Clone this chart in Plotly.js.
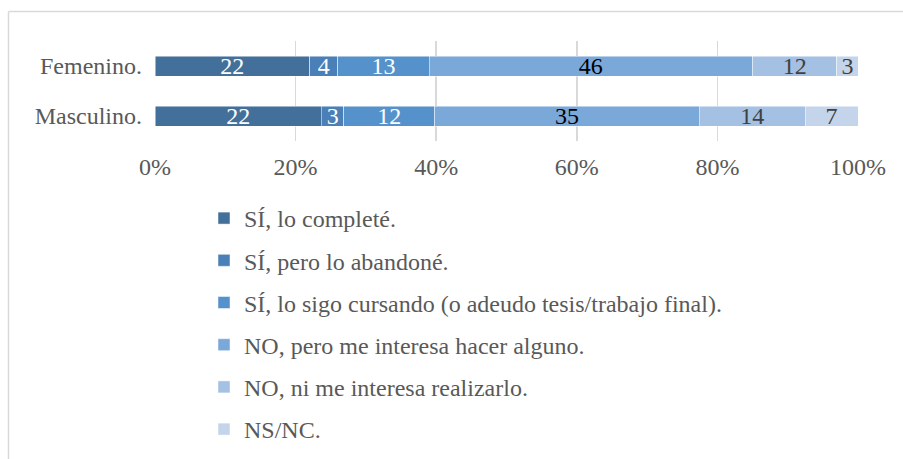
<!DOCTYPE html>
<html>
<head>
<meta charset="utf-8">
<script src="https://cdn.plot.ly/plotly-3.0.1.min.js"></script>
<style>
html,body{margin:0;padding:0;background:#fff;}
#chart{width:903px;height:459px;}
</style>
</head>
<body>
<div id="chart"></div>
<script>
// Data
const categories = ["Masculino.", "Femenino."];
const seriesNames = [
  "SÍ, lo completé.",
  "SÍ, pero lo abandoné.",
  "SÍ, lo sigo cursando (o adeudo tesis/trabajo final).",
  "NO, pero me interesa hacer alguno.",
  "NO, ni me interesa realizarlo.",
  "NS/NC."
];
// values ordered as [Masculino, Femenino]
const completo   = [22, 22];
const abandono   = [3, 4];
const cursando   = [12, 13];
const interesa   = [35, 46];
const noInteresa = [14, 12];
const nsnc       = [7, 3];
const tickVals = [0, 20, 40, 60, 80, 100];
const tickText = ["0%", "20%", "40%", "60%", "80%", "100%"];

const seriesValues = [completo, abandono, cursando, interesa, noInteresa, nsnc];
const colors = ["#43709b", "#4a7fb8", "#5592cb", "#7aa8d9", "#a4c0e3", "#c4d5eb"];
const textColors = ["#ffffff", "#ffffff", "#ffffff", "#000000", "#404040", "#404040"];
const FONT = "Liberation Serif";

const traces = seriesNames.map((name, i) => ({
  type: "bar",
  orientation: "h",
  name: name,
  y: categories,
  x: seriesValues[i],
  text: seriesValues[i].map(String),
  texttemplate: "%{text}",
  textposition: "inside",
  insidetextanchor: "middle",
  textangle: 0,
  constraintext: "none",
  insidetextfont: {family: FONT, size: 24, color: textColors[i]},
  textfont: {family: FONT, size: 24, color: textColors[i]},
  marker: {color: colors[i], line: {color: "rgba(255,255,255,0.6)", width: 0.8}},
  legendgroup: "g" + i,
  hoverinfo: "skip"
}));

const FW = 903, FH = 459;
const W = 703, L = 155, T = 41, H = 100;
const px = v => (v - L) / W;
const py = v => (T + H - v) / H;

const layout = {
  width: FW,
  height: FH,
  margin: {l: L, r: FW - L - W, t: T, b: FH - T - H, autoexpand: false},
  barmode: "stack",
  barnorm: "percent",
  bargap: 0.6,
  paper_bgcolor: "#ffffff",
  plot_bgcolor: "#ffffff",
  showlegend: true,
  font: {family: FONT, color: "#595959", size: 24},
  xaxis: {
    range: [0, 100],
    tickvals: tickVals,
    ticktext: tickText,
    showgrid: true,
    gridcolor: "#d9d9d9",
    gridwidth: 1.5,
    zeroline: false,
    showline: false,
    ticks: "",
    ticklabelstandoff: 9,
    tickfont: {family: FONT, size: 24, color: "#595959"},
    automargin: false,
    fixedrange: true
  },
  yaxis: {
    showgrid: false,
    zeroline: false,
    showline: false,
    ticks: "",
    ticklabelstandoff: 12,
    tickfont: {family: FONT, size: 24, color: "#595959"},
    automargin: false,
    fixedrange: true
  },
  legend: {
    orientation: "v",
    traceorder: "grouped",
    tracegroupgap: 8,
    xref: "container",
    yref: "container",
    x: 204 / FW,
    xanchor: "left",
    y: 1 - 196 / FH,
    yanchor: "top",
    maxheight: 1,
    font: {family: FONT, size: 24, color: "#595959"},
    bgcolor: "rgba(0,0,0,0)",
    itemclick: false,
    itemdoubleclick: false
  },
  shapes: [
    {type: "line", xref: "paper", yref: "paper", x0: px(8.5), x1: px(910), y0: py(11.5), y1: py(11.5), line: {color: "#d9d9d9", width: 1.5}},
    {type: "line", xref: "paper", yref: "paper", x0: px(8.5), x1: px(8.5), y0: py(11.5), y1: py(470), line: {color: "#d9d9d9", width: 1.5}}
  ]
};

Plotly.newPlot("chart", traces, layout, {displayModeBar: false, staticPlot: true});
</script>
</body>
</html>
